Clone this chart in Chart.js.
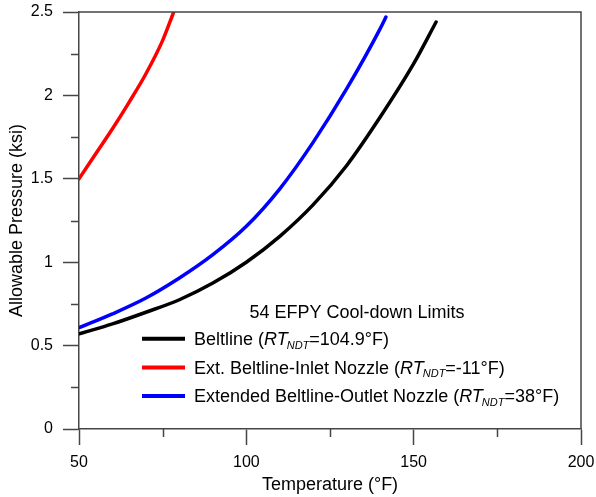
<!DOCTYPE html>
<html>
<head>
<meta charset="utf-8">
<script src="https://cdn.jsdelivr.net/npm/chart.js@4.4.1/dist/chart.umd.min.js"></script>
<style>
	html, body { margin: 0; padding: 0; background: #fff; }
</style>
</head>
<body>
<canvas id="chart-cooldown" width="596" height="497"></canvas>
<script>
// temperature (°F) / allowable pressure (ksi)
const beltlineT = [50, 60, 70, 80, 90, 100, 110, 120, 130, 140, 150, 156.7];
const beltlineP = [0.57, 0.63, 0.70, 0.775, 0.875, 1.00, 1.155, 1.345, 1.58, 1.87, 2.19, 2.44];

const inletT = [50, 55, 60, 65, 70, 75, 78.3];
const inletP = [1.50, 1.65, 1.80, 1.96, 2.13, 2.33, 2.50];

const outletT = [50, 60, 70, 80, 90, 100, 110, 120, 130, 140, 141.7];
const outletP = [0.607, 0.69, 0.785, 0.905, 1.045, 1.215, 1.44, 1.72, 2.04, 2.40, 2.47];

const xMinorTicks = [75, 125, 175];
const yMinorTicks = [0.25, 0.75, 1.25, 1.75, 2.25];

const legendTitle = '54 EFPY Cool-down Limits';
// label pieces: [text, style]  n = normal, i = italic, s = subscript
const legendLabels = [
	[['Beltline (', 'n'], ['RT', 'i'], ['NDT', 's'], ['=104.9°F)', 'n']],
	[['Ext. Beltline-Inlet Nozzle (', 'n'], ['RT', 'i'], ['NDT', 's'], ['=-11°F)', 'n']],
	[['Extended Beltline-Outlet Nozzle (', 'n'], ['RT', 'i'], ['NDT', 's'], ['=38°F)', 'n']],
];

const FONT = '"Liberation Sans", Arial, sans-serif';
const AXIS = '#454545';

function toPoints(xs, ys) {
	return xs.map((x, i) => ({x: x, y: ys[i]}));
}

const extrasPlugin = {
	id: 'extras',
	afterDraw(chart) {
		const ctx = chart.ctx;
		const area = chart.chartArea;
		const xs = chart.scales.x;
		const ys = chart.scales.y;

		ctx.save();
		ctx.strokeStyle = AXIS;
		ctx.lineWidth = 1.5;

		// frame top and right
		ctx.beginPath();
		ctx.moveTo(area.left, area.top);
		ctx.lineTo(area.right, area.top);
		ctx.lineTo(area.right, area.bottom);
		ctx.stroke();

		// minor ticks
		ctx.beginPath();
		for (const v of xMinorTicks) {
			const px = Math.round(xs.getPixelForValue(v)) + 0.5;
			ctx.moveTo(px, area.bottom);
			ctx.lineTo(px, area.bottom + 8);
		}
		for (const v of yMinorTicks) {
			const py = Math.round(ys.getPixelForValue(v)) + 0.5;
			ctx.moveTo(area.left, py);
			ctx.lineTo(area.left - 8, py);
		}
		ctx.stroke();

		// legend
		ctx.fillStyle = '#000';
		ctx.textBaseline = 'alphabetic';
		ctx.textAlign = 'center';
		ctx.font = '18px ' + FONT;
		ctx.fillText(legendTitle, 357, 318);

		ctx.textAlign = 'left';
		chart.data.datasets.forEach((ds, i) => {
			const base = 345 + i * 28.7;
			const mid = base - 6.3;
			ctx.strokeStyle = ds.borderColor;
			ctx.lineWidth = 4;
			ctx.beginPath();
			ctx.moveTo(142, mid);
			ctx.lineTo(185, mid);
			ctx.stroke();

			let x = 194;
			for (const [text, style] of legendLabels[i]) {
				let y = base;
				if (style === 'n') {
					ctx.font = '18px ' + FONT;
				} else if (style === 'i') {
					ctx.font = 'italic 18px ' + FONT;
				} else {
					ctx.font = 'italic 11px ' + FONT;
					y = base + 3.5;
					x -= 1;
				}
				ctx.fillText(text, x, y);
				x += ctx.measureText(text).width;
			}
		});
		ctx.restore();
	}
};

function lineDataset(label, xs, ys, color) {
	return {
		label: label,
		data: toPoints(xs, ys),
		borderColor: color,
		backgroundColor: color,
		borderWidth: 3.5,
		pointRadius: 0,
		showLine: true,
		cubicInterpolationMode: 'monotone',
		borderCapStyle: 'round',
	};
}

new Chart(document.getElementById('chart-cooldown').getContext('2d'), {
	type: 'scatter',
	data: {
		datasets: [
			lineDataset('Beltline', beltlineT, beltlineP, '#000000'),
			lineDataset('Ext. Beltline-Inlet Nozzle', inletT, inletP, '#ff0000'),
			lineDataset('Extended Beltline-Outlet Nozzle', outletT, outletP, '#0000ff'),
		],
	},
	plugins: [extrasPlugin],
	options: {
		responsive: false,
		animation: false,
		layout: {padding: {top: 12, right: 15, left: 0, bottom: 0}},
		plugins: {
			legend: {display: false},
			tooltip: {enabled: false},
		},
		scales: {
			x: {
				type: 'linear',
				min: 50,
				max: 200,
				afterFit: (scale) => {
					scale.height = 68;
					scale.paddingLeft = 0;
					scale.paddingRight = 0;
				},
				ticks: {
					stepSize: 50,
					color: '#000',
					font: {family: FONT, size: 16},
					padding: 8,
					maxRotation: 0,
					callback: (v) => String(v),
				},
				grid: {
					drawOnChartArea: false,
					drawTicks: true,
					tickLength: 16,
					tickColor: AXIS,
					tickWidth: 1.5,
				},
				border: {color: AXIS, width: 1.5},
				title: {
					display: true,
					text: 'Temperature (°F)',
					color: '#000',
					font: {family: FONT, size: 18},
					padding: {top: 0, bottom: 1},
				},
			},
			y: {
				type: 'linear',
				min: 0,
				max: 2.5,
				afterFit: (scale) => {
					scale.width = 79;
					scale.paddingTop = 0;
					scale.paddingBottom = 0;
				},
				ticks: {
					stepSize: 0.5,
					color: '#000',
					font: {family: FONT, size: 16},
					padding: 10,
					callback: (v) => String(v),
				},
				grid: {
					drawOnChartArea: false,
					drawTicks: true,
					tickLength: 16,
					tickColor: AXIS,
					tickWidth: 1.5,
				},
				border: {color: AXIS, width: 1.5},
				title: {
					display: true,
					text: 'Allowable Pressure (ksi)',
					color: '#000',
					font: {family: FONT, size: 18},
					padding: {top: 6, bottom: 0},
				},
			},
		},
	},
});
</script>
</body>
</html>
